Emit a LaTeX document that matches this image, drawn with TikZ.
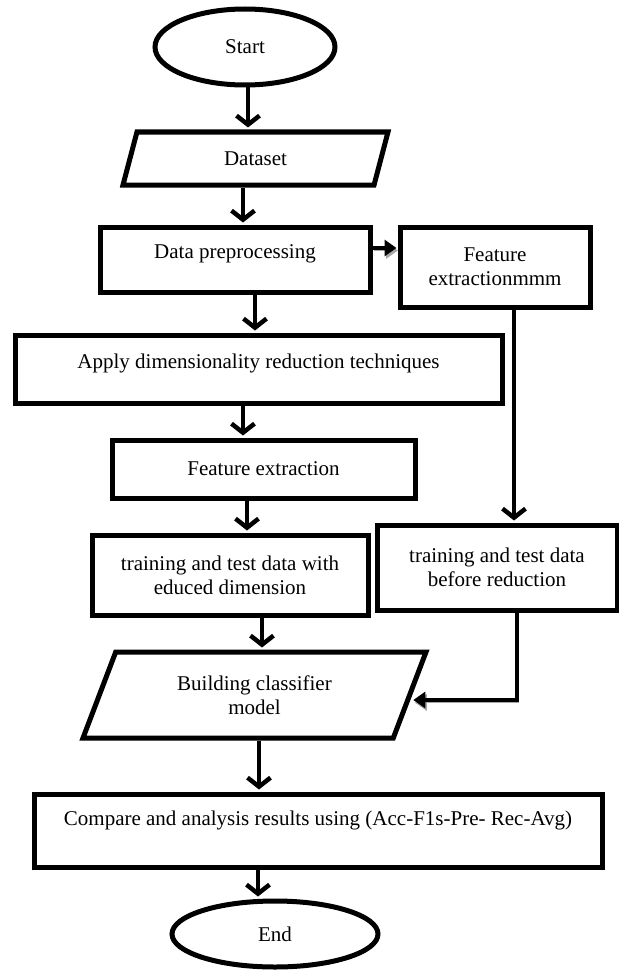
\documentclass[tikz,border=0pt]{standalone}
\usepackage{fontspec}
\setmainfont{Liberation Serif}
\usetikzlibrary{shapes.geometric,arrows.meta}

\begin{document}
\begin{tikzpicture}[x=1pt,y=-1pt,
        every node/.style={font=\fontsize{21}{24}\selectfont,align=center,inner sep=0pt},
        box/.style={draw,line width=5pt,rectangle},
        term/.style={draw,line width=5pt,ellipse},
        io/.style={draw,line width=5pt,trapezium,trapezium stretches body},
        raised/.style={text height=15pt,text depth=#1},
        arr/.style={line width=4.5pt,-{Straight Barb[length=9pt,width=23pt]},shorten >=2pt},
        harr/.style={line width=4.5pt,-{Triangle[length=12pt,width=16pt]},shorten >=1pt,
            preaction={draw=black!35,transform canvas={shift={(1.5pt,-2.5pt)}}}}]
        \useasboundingbox(0,0)rectangle(618,971);

        \node[term,minimum width=180pt,minimum height=76pt](start)at(245,47){Start};
        \node[io,trapezium left angle=45,trapezium right angle=135,minimum width=265pt,minimum height=53pt](ds)at(255.5,158.5){Dataset};
        \node[box,raised=17pt,minimum width=270pt,minimum height=65pt](dp)at(235,259.5){Data preprocessing};
        \node[box,minimum width=190pt,minimum height=80pt](fem)at(495,267){Feature\\extractionmmm};
        \node[box,raised=17pt,minimum width=487pt,minimum height=68pt](adr)at(258.5,369){Apply dimensionality reduction techniques};
        \node[box,minimum width=303pt,minimum height=58pt](fe)at(263.5,469){Feature extraction};
        \node[box,minimum width=276pt,minimum height=80pt](trw)at(230,575){training and test data with\\educed dimension};
        \node[box,minimum width=240pt,minimum height=85pt](trb)at(497,567.5){training and test data\\before reduction};
        \node[io,trapezium left angle=50,trapezium right angle=130,minimum width=343pt,minimum height=86pt](bld)at(254.5,695){Building classifier\\model};
        \node[box,raised=26pt,minimum width=568pt,minimum height=73pt](cmp)at(318,830.5){Compare and analysis results using (Acc-F1s-Pre- Rec-Avg)};
        \node[term,minimum width=206pt,minimum height=66pt](end)at(275,934){End};

        \draw[arr]([xshift=3pt]start.south)--([xshift=3pt]start.south|-ds.north);
        \draw[arr]([xshift=-12.5pt]ds.south)--([xshift=-12.5pt]ds.south|-dp.north);
        \draw[harr]([yshift=11.5pt]dp.east)--([yshift=11.5pt]dp.east-|fem.west);
        \draw[arr]([xshift=20pt]dp.south)--([xshift=20pt]dp.south|-adr.north);
        \draw[arr]([xshift=-15.5pt]adr.south)--([xshift=-15.5pt]adr.south|-fe.north);
        \draw[arr]([xshift=-16.5pt]fe.south)--([xshift=-16.5pt]fe.south|-trw.north);
        \draw[arr]([xshift=19pt]fem.south)--([xshift=19pt]fem.south|-trb.north);
        \draw[arr]([xshift=32pt]trw.south)--([xshift=32pt]trw.south|-bld.north);
        \draw[harr]([xshift=20pt]trb.south)|-([yshift=-5pt]bld.east);
        \draw[arr]([xshift=4.5pt]bld.south)--([xshift=4.5pt]bld.south|-cmp.north);
        \draw[arr]([xshift=-60pt]cmp.south)--([xshift=-60pt]cmp.south|-end.north);
    \end{tikzpicture}
\end{document}
